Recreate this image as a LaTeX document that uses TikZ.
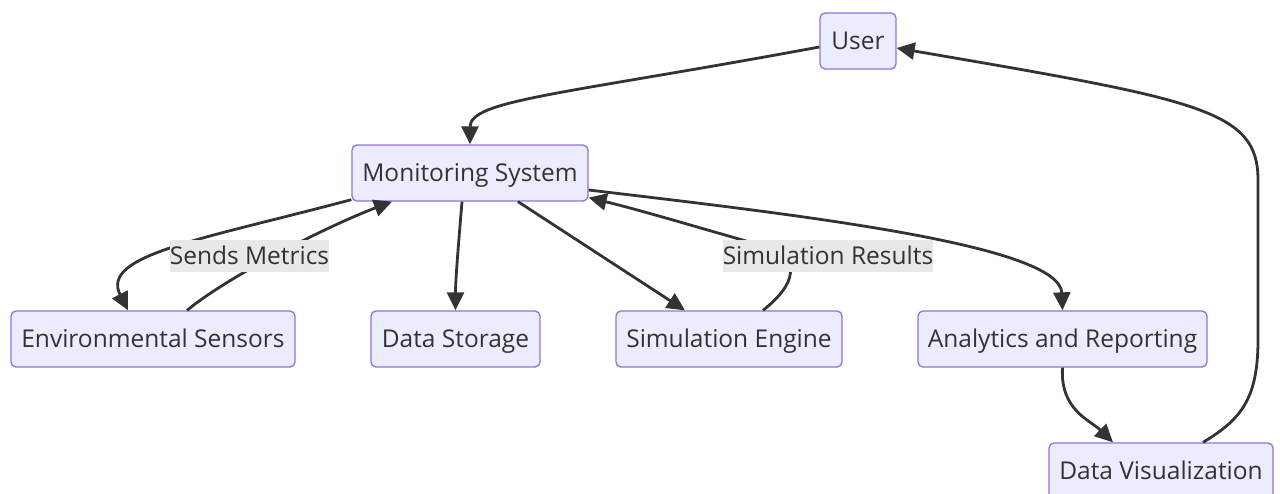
\documentclass[tikz,border=0pt]{standalone}
\usepackage{fontspec}
\setmainfont{Open Sans}
\usetikzlibrary{arrows.meta}
\definecolor{boxfill}{HTML}{ECECFF}
\definecolor{boxline}{HTML}{9370DB}
\definecolor{ink}{HTML}{333333}
\definecolor{labelbg}{HTML}{E8E8E8}
\tikzset{
  proc/.style={draw=boxline, fill=boxfill, line width=1.3pt, rounded corners=5pt,
    minimum height=56pt, inner sep=0pt, text=ink, text height=20pt, text depth=2.5pt,
    font=\fontsize{24.5}{29}\selectfont},
  elabel/.style={fill=labelbg, inner sep=0pt, minimum height=32pt, text=ink,
    text height=20pt, text depth=2.5pt, font=\fontsize{24.5}{29}\selectfont},
  link/.style={draw=ink, line width=2.8pt, -{Triangle[length=18pt,width=17pt]}}
}
\begin{document}
\begin{tikzpicture}[x=1pt, y=-1pt]
\useasboundingbox (0,0) rectangle (1280,493);

% boxes
\node[proc, minimum width=76pt]  (user) at (858,41)    {User};
\node[proc, minimum width=236pt] (mon)  at (470,173)   {Monitoring System};
\node[proc, minimum width=284pt] (env)  at (153,339)   {Environmental Sensors};
\node[proc, minimum width=169pt] (stor) at (455.5,339) {Data Storage};
\node[proc, minimum width=226pt] (sim)  at (729,339)   {Simulation Engine};
\node[proc, minimum width=289pt] (ana)  at (1062.5,339){Analytics and Reporting};
\node[proc, minimum width=224pt] (vis)  at (1161,471)  {Data Visualization};

% connectors
\draw[link] ([yshift=-6pt]user.west) .. controls (560,95) and (470,100) .. (mon.north);
\draw[link] ([yshift=2pt]mon.south west) .. controls (200,240) and (100,255) .. ([xshift=-25pt]env.north);
\draw[link] ([xshift=34pt]env.north) .. controls (230,275) and (330,225) .. ([xshift=-78pt]mon.south);
\draw[link] ([xshift=-8pt]mon.south) .. controls (458,250) and (455.5,280) .. (stor.north);
\draw[link] ([xshift=48pt]mon.south) -- ([xshift=-44pt]sim.north);
\draw[link] ([xshift=34pt]sim.north) .. controls (795,285) and (805,258) .. (760,245)
            .. controls (700,228) and (640,210) .. ([yshift=4pt]mon.south east);
\draw[link] ([yshift=-17pt]mon.east) .. controls (800,215) and (1060,245) .. (ana.north);
\draw[link] (ana.south) .. controls (1060,410) and (1090,420) .. ([xshift=-48pt]vis.north);
\draw[link] ([xshift=42pt]vis.north) .. controls (1240,420) and (1258,400) .. (1258,340)
            -- (1258,180) .. controls (1258,110) and (1200,100) .. ([yshift=-7pt]user.east);

% edge labels
\node[elabel, minimum width=157pt] (lblmetrics) at (249.5,256) {Sends Metrics};
\node[elabel, minimum width=208pt] (lblresults) at (828,256) {Simulation Results};
\end{tikzpicture}
\end{document}
